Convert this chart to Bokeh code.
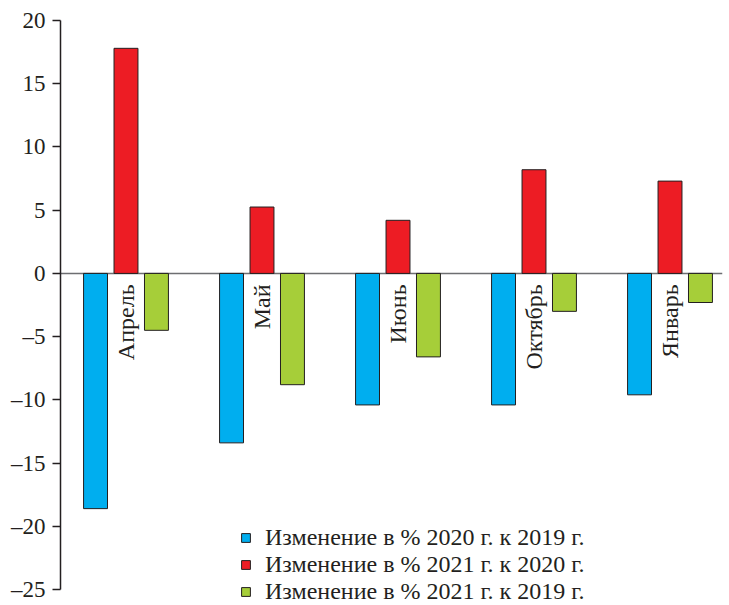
from math import pi
from bokeh.plotting import figure
from bokeh.models import (ColumnDataSource, Range1d, Span, FixedTicker, Legend, LegendItem)
from bokeh.transform import dodge
from bokeh.core.properties import value
from bokeh.embed import file_html
from bokeh.resources import INLINE

months = ["Апрель", "Май", "Июнь", "Октябрь", "Январь"]
chg_2020_vs_2019 = [-18.6, -13.4, -10.4, -10.4, -9.6]
chg_2021_vs_2020 = [17.8, 5.25, 4.2, 8.2, 7.3]
chg_2021_vs_2019 = [-4.5, -8.8, -6.6, -3.0, -2.3]
series_labels = ["Изменение в % 2020 г. к 2019 г.",
                 "Изменение в % 2021 г. к 2020 г.",
                 "Изменение в % 2021 г. к 2019 г."]
y_ticks = [-25, -20, -15, -10, -5, 0, 5, 10, 15, 20]

FONT = "'Liberation Serif'"
INK = "#231f20"

src = ColumnDataSource(dict(
    x=list(range(len(months))),
    month=months,
    a=chg_2020_vs_2019,
    b=chg_2021_vs_2020,
    c=chg_2021_vs_2019,
))

p = figure(width=729, height=605, output_backend="svg", toolbar_location=None,
           x_range=Range1d(-0.4816, 4.386), y_range=Range1d(-26.26, 20),
           min_border_left=60, min_border_right=7, min_border_top=20, min_border_bottom=0)
p.outline_line_color = None
p.grid.visible = False
p.xaxis.visible = False

p.yaxis.ticker = FixedTicker(ticks=y_ticks)
p.yaxis.bounds = (-25, 20)
p.yaxis.major_label_overrides = {t: ("\u2013" + str(-t)) if t < 0 else str(t) for t in y_ticks}
p.yaxis.major_tick_out = 8
p.yaxis.major_tick_in = 0
p.yaxis.minor_tick_line_color = None
p.yaxis.axis_line_color = INK
p.yaxis.axis_line_width = 1.5
p.yaxis.major_tick_line_color = INK
p.yaxis.major_tick_line_width = 1.5
p.yaxis.major_label_text_font = "Liberation Serif"
p.yaxis.major_label_text_font_size = "23px"
p.yaxis.major_label_text_color = INK
p.yaxis.major_label_standoff = 7

zero = Span(location=0, dimension="width", line_color="#6d6e71", line_width=1.5, level="underlay")
p.add_layout(zero)

w = 0.176
off = 0.224
r1 = p.vbar(x=dodge("x", -off, range=p.x_range), top="a", bottom=0, width=w, source=src,
            fill_color="#00aeef", line_color=INK, line_width=1)
r2 = p.vbar(x=dodge("x", 0, range=p.x_range), top="b", bottom=0, width=w, source=src,
            fill_color="#ed1c24", line_color=INK, line_width=1)
r3 = p.vbar(x=dodge("x", off, range=p.x_range), top="c", bottom=0, width=w, source=src,
            fill_color="#a6ce39", line_color=INK, line_width=1)

p.text(x="x", y=0, text="month", source=src, angle=pi / 2, text_align="right",
       text_baseline="middle", y_offset=11, text_font=value("Liberation Serif"),
       text_font_size="24px", text_color=INK)

legend = Legend(items=[LegendItem(label=series_labels[0], renderers=[r1]),
                       LegendItem(label=series_labels[1], renderers=[r2]),
                       LegendItem(label=series_labels[2], renderers=[r3])],
                location=(180, 0), orientation="vertical",
                glyph_width=11, glyph_height=11, label_standoff=14,
                label_text_font=FONT, label_text_font_size="24px", label_text_color=INK,
                label_height=26, spacing=0, padding=0, margin=0,
                border_line_color=None, background_fill_alpha=0)
p.add_layout(legend, "center")

open("out.html", "w").write(file_html(p, INLINE))
